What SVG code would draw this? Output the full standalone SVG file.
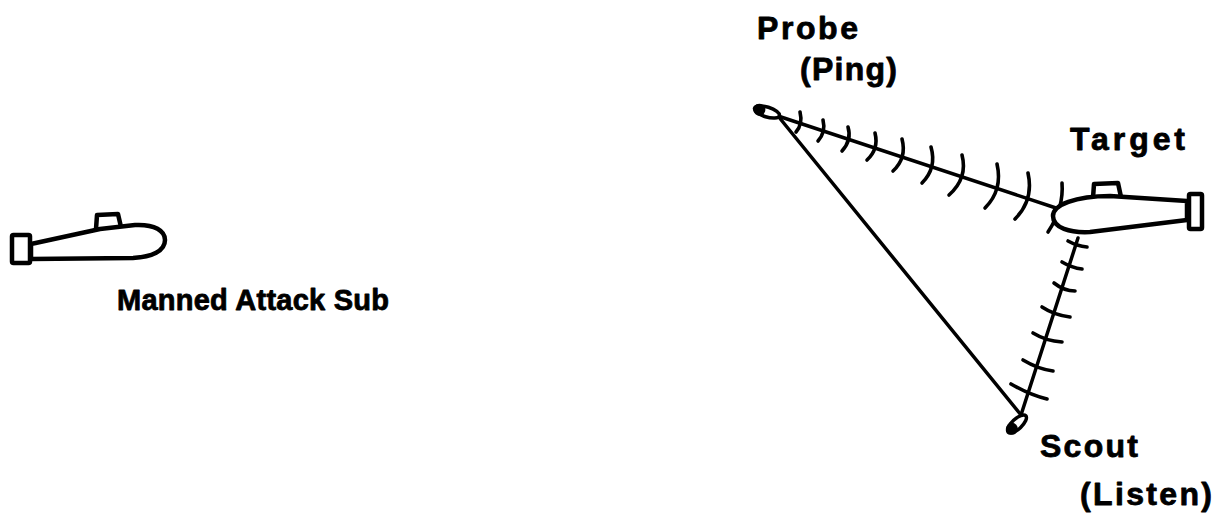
<svg xmlns="http://www.w3.org/2000/svg" width="1216" height="518" viewBox="0 0 1216 518">
  <style>
    .hull { fill: #fff; stroke: #000; stroke-width: 4.5; stroke-linejoin: round; stroke-linecap: round; }
    .line { fill: none; stroke: #000; stroke-width: 3.5; stroke-linecap: round; }
    .tick { fill: none; stroke: #000; stroke-width: 3.6; stroke-linecap: round; }
    .lbl { font-family: "Liberation Sans", Arial, Helvetica, sans-serif; font-weight: bold; font-size: 32px; fill: #000; stroke: #000; stroke-width: 0.8; stroke-linejoin: round; }
    .lbl-sm { font-size: 29px; }
  </style>

  <rect width="1216" height="518" fill="#fff"/>

  <!-- connectors: sonar paths with wavefront ticks -->
  <g id="connectors">
    <!-- probe to target (ping) -->
    <line class="line" x1="778" y1="116" x2="1056" y2="208"/>
    <!-- target to scout (echo) -->
    <line class="line" x1="1078" y1="238" x2="1021" y2="415"/>
    <!-- probe to scout -->
    <line class="line" x1="778" y1="116" x2="1021" y2="415"/>

    <!-- ping wavefronts -->
    <g id="ping-waves">
      <path class="tick" d="M800,112 Q803,124 796,132"/>
      <path class="tick" d="M823,120 Q826,132 818,141"/>
      <path class="tick" d="M848,127 Q852,140 842,151"/>
      <path class="tick" d="M875,133 Q879,149 867,160"/>
      <path class="tick" d="M902,139 Q907,158 893,171"/>
      <path class="tick" d="M931,147 Q937,168 922,183"/>
      <path class="tick" d="M962,155 Q968,178 949,195"/>
      <path class="tick" d="M997,164 Q1003,190 985,208"/>
      <path class="tick" d="M1028,173 Q1034,200 1015,219"/>
      <path class="tick" d="M1062,183 Q1064,208 1048,232"/>
    </g>

    <!-- echo wavefronts -->
    <g id="echo-waves">
      <path class="tick" d="M1068,241 Q1077,246 1087,247"/>
      <path class="tick" d="M1062,262 Q1072,268 1082,269"/>
      <path class="tick" d="M1054,283 Q1064,291 1075,291"/>
      <path class="tick" d="M1042,307 Q1054,315 1070,317"/>
      <path class="tick" d="M1033,333 Q1046,341 1062,342"/>
      <path class="tick" d="M1023,360 Q1038,369 1053,371"/>
      <path class="tick" d="M1011,384 Q1030,395 1047,399"/>
    </g>
  </g>

  <!-- manned attack sub, nose to the right -->
  <g id="attack-sub">
    <path class="hull" d="M96,229 L97,215 L118,214 L121,227"/>
    <path class="hull" d="M31,244 L100,229 L135,225 C155,224 165,231 165,240 C165,251 152,257 133,258 L31,259 Z"/>
    <rect class="hull" x="12" y="235" width="18" height="28" rx="1.5"/>
    <text class="lbl lbl-sm" x="117" y="310" textLength="272" lengthAdjust="spacing">Manned Attack Sub</text>
  </g>

  <!-- target sub, nose to the left -->
  <g id="target">
    <path class="hull" d="M1093,198 L1094,184 L1118,183 L1121,197"/>
    <path class="hull" d="M1187,201 L1110,196 C1075,196 1053,205 1053,216 C1053,228 1070,233 1090,232 L1187,220 Z"/>
    <rect class="hull" x="1189" y="194" width="13" height="35" rx="1.5"/>
    <text class="lbl" x="1070" y="150" textLength="115" lengthAdjust="spacing">Target</text>
  </g>

  <!-- probe drone -->
  <g id="probe">
    <g transform="translate(767,112) rotate(17)">
      <ellipse cx="0" cy="0" rx="13" ry="5" fill="#fff" stroke="#000" stroke-width="3.5"/>
      <ellipse cx="-8" cy="0" rx="6" ry="6" fill="#000"/>
    </g>
    <text class="lbl" x="757" y="39" textLength="101" lengthAdjust="spacing">Probe</text>
    <text class="lbl" x="800" y="80" textLength="97" lengthAdjust="spacing">(Ping)</text>
  </g>

  <!-- scout drone -->
  <g id="scout">
    <g transform="translate(1017,424) rotate(-43)">
      <ellipse cx="0" cy="0" rx="12" ry="5" fill="#fff" stroke="#000" stroke-width="3.5"/>
      <ellipse cx="-7" cy="0" rx="6" ry="6" fill="#000"/>
    </g>
    <text class="lbl" x="1040" y="457" textLength="98" lengthAdjust="spacing">Scout</text>
    <text class="lbl" x="1080" y="505" textLength="132" lengthAdjust="spacing">(Listen)</text>
  </g>
</svg>
